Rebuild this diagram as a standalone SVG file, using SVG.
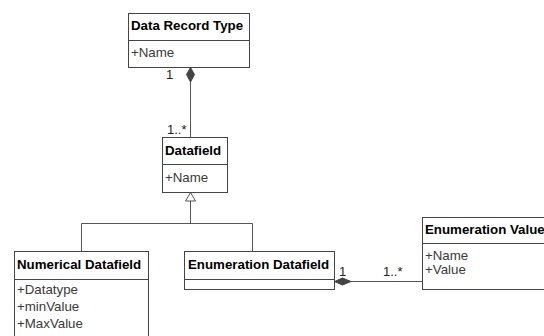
<svg xmlns="http://www.w3.org/2000/svg" width="544" height="336" viewBox="0 0 544 336">
  <style>
    .box { fill: #ffffff; stroke: #444444; stroke-width: 1; }
    .sep { stroke: #444444; stroke-width: 1; }
    .title { font-family: "Liberation Sans", Arial, sans-serif; font-size: 13.3px; font-weight: bold; fill: #000000; }
    .attr { font-family: "Liberation Sans", Arial, sans-serif; font-size: 13.3px; fill: #3a3a3a; }
    .edge { fill: none; stroke: #555555; stroke-width: 1; }
    .mult { font-family: "Liberation Sans", Arial, sans-serif; font-size: 13px; fill: #222222; }
    .comp { fill: #444444; stroke: #444444; stroke-width: 1; }
    .gen { fill: #ffffff; stroke: #555555; stroke-width: 1; }
  </style>
  <rect width="544" height="336" fill="#ffffff"/>

  <g id="connectors">
    <!-- composition: Data Record Type to Datafield -->
    <line class="edge" x1="190.5" y1="82" x2="190.5" y2="137"/>
    <path class="comp" d="M190.5,67.5 L194.5,74.5 L190.5,82 L186.5,74.5 Z"/>
    <text class="mult" x="166" y="79">1</text>
    <text class="mult" x="167" y="134">1..*</text>

    <!-- generalization: subclasses to Datafield -->
    <path class="edge" d="M190.5,201 V223.5 M81.5,251 V223.5 H252.5 V251"/>
    <path class="gen" d="M190.5,192.5 L195.5,201 L185.5,201 Z"/>

    <!-- composition: Enumeration Datafield to Enumeration Value -->
    <line class="edge" x1="351" y1="281.5" x2="422" y2="281.5"/>
    <path class="comp" d="M334.5,281.5 L342.5,278 L351,281.5 L342.5,285 Z"/>
    <text class="mult" x="339" y="276">1</text>
    <text class="mult" x="383" y="276">1..*</text>
  </g>

  <g id="data-record-type">
    <rect class="box" x="128.5" y="13.5" width="121" height="54"/>
    <line class="sep" x1="128.5" y1="40.5" x2="249.5" y2="40.5"/>
    <text class="title" x="131" y="30">Data Record Type</text>
    <text class="attr" x="131" y="57">+Name</text>
  </g>

  <g id="datafield">
    <rect class="box" x="162.5" y="137.5" width="65" height="55"/>
    <line class="sep" x1="162.5" y1="164.5" x2="227.5" y2="164.5"/>
    <text class="title" x="165" y="155">Datafield</text>
    <text class="attr" x="165" y="182">+Name</text>
  </g>

  <g id="numerical-datafield">
    <rect class="box" x="14.5" y="251.5" width="134" height="100"/>
    <line class="sep" x1="14.5" y1="279.5" x2="148.5" y2="279.5"/>
    <text class="title" x="17" y="269">Numerical Datafield</text>
    <text class="attr" x="17" y="294">+Datatype</text>
    <text class="attr" x="17" y="311">+minValue</text>
    <text class="attr" x="17" y="328">+MaxValue</text>
  </g>

  <g id="enumeration-datafield">
    <rect class="box" x="184.5" y="251.5" width="150" height="38"/>
    <line class="sep" x1="184.5" y1="279.5" x2="334.5" y2="279.5"/>
    <text class="title" x="188" y="269">Enumeration Datafield</text>
  </g>

  <g id="enumeration-value">
    <rect class="box" x="422.5" y="217.5" width="140" height="72"/>
    <line class="sep" x1="422.5" y1="243.5" x2="562.5" y2="243.5"/>
    <text class="title" x="425" y="234">Enumeration Value</text>
    <text class="attr" x="425" y="260">+Name</text>
    <text class="attr" x="425" y="274">+Value</text>
  </g>
</svg>
